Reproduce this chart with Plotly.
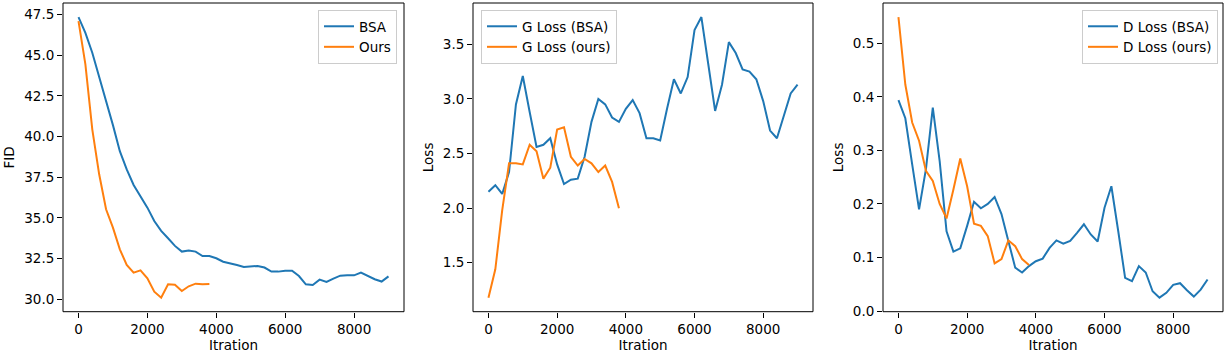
"""Training curves: FID, generator loss and discriminator loss, BSA vs ours."""

import plotly.graph_objects as go
from plotly.subplots import make_subplots

# iterations (logged every 200 steps)
iters_bsa = list(range(0, 9001, 200))
iters_ours = list(range(0, 3801, 200))

# FID
fid_bsa = [47.34, 46.37, 45.15, 43.71, 42.18, 40.70, 39.10, 37.98, 37.02, 36.35,
           35.63, 34.81, 34.20, 33.75, 33.28, 32.93, 33.00, 32.93, 32.66, 32.66,
           32.52, 32.31, 32.23, 32.11, 31.99, 32.03, 32.05, 31.95, 31.70, 31.70,
           31.76, 31.76, 31.43, 30.92, 30.88, 31.21, 31.07, 31.27, 31.45, 31.47,
           31.47, 31.64, 31.43, 31.23, 31.09, 31.41]
fid_ours = [47.09, 44.43, 40.44, 37.68, 35.53, 34.40, 33.07, 32.11, 31.64, 31.78,
            31.29, 30.47, 30.10, 30.92, 30.90, 30.51, 30.80, 30.96, 30.92, 30.94]

# generator loss
g_bsa = [2.15, 2.21, 2.13, 2.33, 2.95, 3.21, 2.88, 2.56, 2.58, 2.64,
         2.40, 2.22, 2.26, 2.27, 2.47, 2.79, 3.00, 2.95, 2.83, 2.79,
         2.91, 2.99, 2.87, 2.64, 2.64, 2.62, 2.91, 3.18, 3.05, 3.20,
         3.63, 3.75, 3.32, 2.89, 3.13, 3.52, 3.42, 3.27, 3.25, 3.18,
         2.98, 2.71, 2.64, 2.85, 3.05, 3.13]
g_ours = [1.18, 1.44, 1.98, 2.41, 2.41, 2.40, 2.58, 2.52, 2.27, 2.37,
          2.72, 2.74, 2.47, 2.39, 2.45, 2.41, 2.33, 2.39, 2.24, 2.00]

# discriminator loss
d_bsa = [0.394, 0.360, 0.274, 0.190, 0.265, 0.380, 0.280, 0.149, 0.111, 0.117,
         0.159, 0.204, 0.192, 0.200, 0.213, 0.181, 0.131, 0.081, 0.072, 0.084,
         0.093, 0.098, 0.118, 0.132, 0.126, 0.131, 0.146, 0.162, 0.143, 0.130,
         0.193, 0.233, 0.149, 0.062, 0.056, 0.084, 0.072, 0.037, 0.025, 0.034,
         0.049, 0.052, 0.039, 0.027, 0.040, 0.059]
d_ours = [0.549, 0.423, 0.352, 0.318, 0.262, 0.243, 0.200, 0.173, 0.227, 0.285,
          0.233, 0.163, 0.159, 0.140, 0.089, 0.097, 0.132, 0.121, 0.097, 0.086]

BLUE = "#1f77b4"
ORANGE = "#ff7f0e"
FONT = "DejaVu Sans"
FS = 13.5

W, H = 1229, 354


def padded(vals, frac=0.05):
    lo, hi = min(vals), max(vals)
    pad = (hi - lo) * frac
    return [lo - pad, hi + pad]


panels = [
    # (bsa y, ours y, bsa name, ours name, y title, dtick, legend x, anchor)
    (fid_bsa, fid_ours, "BSA", "Ours", "FID", 2.5, 397, "right"),
    (g_bsa, g_ours, "G Loss (BSA)", "G Loss (ours)", "Loss", 0.5, 481, "left"),
    (d_bsa, d_ours, "D Loss (BSA)", "D Loss (ours)", "Loss", 0.1, 1218, "right"),
]

# axes boxes in pixels (left, right)
boxes = [(63, 404), (473, 813), (883, 1223)]
y_top, y_bot = 3, 311.7

fig = make_subplots(rows=1, cols=3)

for i, (yb, yo, nb, no, ytitle, dt, lx, lanchor) in enumerate(panels):
    col = i + 1
    leg = "legend" if i == 0 else f"legend{i + 1}"
    fig.add_trace(go.Scatter(x=iters_bsa, y=yb, name=nb, mode="lines",
                             line=dict(color=BLUE, width=2), legend=leg),
                  row=1, col=col)
    fig.add_trace(go.Scatter(x=iters_ours, y=yo, name=no, mode="lines",
                             line=dict(color=ORANGE, width=2), legend=leg),
                  row=1, col=col)

    left, right = boxes[i]
    axis_common = dict(
        showline=False, ticks="outside", ticklen=5, tickwidth=1,
        tickcolor="#000000", showgrid=False, zeroline=False,
        tickfont=dict(family=FONT, size=FS, color="black"),
    )
    fig.update_xaxes(
        domain=[left / W, right / W],
        range=padded(iters_bsa), tick0=0, dtick=2000,
        title=dict(text="Itration", standoff=4,
                   font=dict(family=FONT, size=FS, color="black")),
        row=1, col=col, **axis_common,
    )
    fig.update_yaxes(
        domain=[1 - y_bot / H, 1 - y_top / H],
        range=padded(yb + yo), dtick=dt, tickformat=".1f",
        title=dict(text=ytitle, standoff=6,
                   font=dict(family=FONT, size=FS, color="black")),
        row=1, col=col, **axis_common,
    )

    # axes frame (all four spines)
    xa = "x" if i == 0 else f"x{i + 1}"
    ya = "y" if i == 0 else f"y{i + 1}"
    fig.add_shape(type="rect", xref=f"{xa} domain", yref=f"{ya} domain",
                  x0=0, x1=1, y0=0, y1=1, layer="above",
                  line=dict(color="black", width=1), fillcolor="rgba(0,0,0,0)")

    fig.update_layout({leg: dict(
        x=lx / W, xanchor=lanchor, y=1 - 10 / H, yanchor="top",
        bgcolor="rgba(255,255,255,0.8)", bordercolor="#cccccc", borderwidth=1,
        font=dict(family=FONT, size=FS, color="black"),
        tracegroupgap=0,
    )})

fig.update_layout(
    width=W, height=H,
    margin=dict(l=0, r=0, t=0, b=0, autoexpand=False),
    plot_bgcolor="white", paper_bgcolor="white",
    font=dict(family=FONT, size=FS, color="black"),
    showlegend=True,
)

# page has a default body margin; drop it so the figure sits at (0, 0)
fig.write_html("out.html", config={"displayModeBar": False},
               post_script="document.body.style.margin='0';")
